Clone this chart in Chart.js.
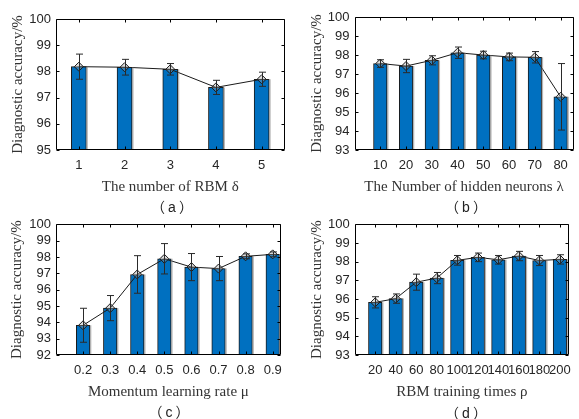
<!DOCTYPE html>
<html><head><meta charset="utf-8">
<script src="https://cdn.jsdelivr.net/npm/chart.js@4"></script>
<style>
html,body{margin:0;padding:0;background:#fff;}
#wrap{position:relative;width:579px;height:419px;overflow:hidden;background:#fff;}
canvas{position:absolute;}
.sub{position:absolute;font-family:"Noto Sans CJK SC",sans-serif;font-size:14px;color:#222;transform:translate(-50%,-50%);white-space:nowrap;line-height:1;}
.sub span{font-family:"Liberation Sans",sans-serif;margin:0 3px;}
</style></head><body>
<div id="wrap">
<canvas id="ca" width="290" height="210" style="left:0;top:0"></canvas>
<canvas id="cb" width="290" height="210" style="left:289px;top:0"></canvas>
<canvas id="cc" width="290" height="210" style="left:0;top:209px"></canvas>
<canvas id="cd" width="290" height="210" style="left:289px;top:209px"></canvas>
<div class="sub" style="left:172px;top:206px">（<span>a</span>）</div>
<div class="sub" style="left:466px;top:206px">（<span>b</span>）</div>
<div class="sub" style="left:169px;top:411px">（<span>c</span>）</div>
<div class="sub" style="left:466px;top:412px">（<span>d</span>）</div>
</div>
<script>
// ---- data ----
const aCats = ['1', '2', '3', '4', '5'];
const aVals = [98.18, 98.16, 98.08, 97.39, 97.70];
const aErr  = [0.48, 0.30, 0.22, 0.27, 0.27];
const aYTicks = [95, 96, 97, 98, 99, 100];

const bCats = [10, 20, 30, 40, 50, 60, 70, 80];
const bLabels = ['10', '20', '30', '40', '50', '60', '70', '80'];
const bVals = [97.55, 97.42, 97.72, 98.12, 98.00, 97.90, 97.88, 95.80];
const bErr  = [0.20, 0.35, 0.24, 0.30, 0.20, 0.20, 0.30, 1.75];
const bYTicks = [93, 94, 95, 96, 97, 98, 99, 100];

const cCats = [0.2, 0.3, 0.4, 0.5, 0.6, 0.7, 0.8, 0.9];
const cLabels = ['0.2', '0.3', '0.4', '0.5', '0.6', '0.7', '0.8', '0.9'];
const cVals = [93.82, 94.87, 96.93, 97.89, 97.38, 97.29, 98.04, 98.16];
const cErr  = [1.04, 0.77, 1.15, 0.93, 0.83, 0.74, 0.15, 0.15];
const cYTicks = [92, 93, 94, 95, 96, 97, 98, 99, 100];

const dCats = [20, 40, 60, 80, 100, 120, 140, 160, 180, 200];
const dLabels = ['20', '40', '60', '80', '100', '120', '140', '160', '180', '200'];
const dVals = [95.82, 96.02, 96.90, 97.12, 98.07, 98.23, 98.10, 98.30, 98.06, 98.12];
const dErr  = [0.30, 0.25, 0.43, 0.30, 0.26, 0.23, 0.23, 0.25, 0.27, 0.25];
const dYTicks = [93, 94, 95, 96, 97, 98, 99, 100];

const yTitle = 'Diagnostic accuracy/%';

// ---- plugin: bar shading, error bars, axes box, inward ticks ----
const boxPlugin = {
  id: 'errbox',
  afterDatasetsDraw(chart, args, opts) {
    const {ctx, chartArea: a, scales: {x, y}} = chart;
    ctx.save();
    const meta = chart.getDatasetMeta(1);
    // light grey edge to the right of each bar
    ctx.strokeStyle = 'rgba(120,120,120,0.55)';
    ctx.lineWidth = 1.5;
    meta.data.forEach(el => {
      const rx = el.x + el.width / 2 + 0.75;
      ctx.beginPath();
      ctx.moveTo(rx, el.y); ctx.lineTo(rx, a.bottom - 1);
      ctx.stroke();
    });
    ctx.strokeStyle = '#2a2a2a';
    ctx.lineWidth = 1;
    meta.data.forEach((el, i) => {
      const px = Math.round(el.x) + 0.5;
      const v = opts.vals[i], e = opts.errs[i];
      const yt = y.getPixelForValue(v + e), yb = y.getPixelForValue(v - e);
      ctx.beginPath();
      ctx.moveTo(px, yt); ctx.lineTo(px, yb);
      ctx.moveTo(px - 3.5, yt); ctx.lineTo(px + 3.5, yt);
      ctx.moveTo(px - 3.5, yb); ctx.lineTo(px + 3.5, yb);
      ctx.stroke();
    });
    ctx.strokeStyle = '#000';
    ctx.lineWidth = 1;
    const L = Math.round(a.left) + 0.5, R = Math.round(a.right) - 0.5;
    const T = Math.round(a.top) + 0.5, B = Math.round(a.bottom) - 0.5;
    ctx.beginPath();
    ctx.rect(L, T, R - L, B - T);
    const tl = 3;
    x.ticks.forEach(t => {
      const px = Math.round(x.getPixelForValue(t.value)) + 0.5;
      ctx.moveTo(px, B); ctx.lineTo(px, B - tl);
      ctx.moveTo(px, T); ctx.lineTo(px, T + tl);
    });
    y.ticks.forEach(t => {
      const py = Math.round(y.getPixelForValue(t.value)) + 0.5;
      ctx.moveTo(L, py); ctx.lineTo(L + tl, py);
      ctx.moveTo(R, py); ctx.lineTo(R - tl, py);
    });
    ctx.stroke();
    ctx.restore();
  }
};

const tickFont = {family: 'Liberation Sans', size: 13};
const titleFont = {family: 'Liberation Serif', size: 15};

function panel(id, p) {
  const isCat = p.kind === 'category';
  const pts = isCat ? p.vals : p.cats.map((c, i) => ({x: c, y: p.vals[i]}));
  const xScale = isCat ? {
    type: 'category', offset: true,
    grid: {display: false, drawTicks: false, offset: true}, border: {display: false},
    ticks: {padding: 8, font: tickFont, color: '#262626', maxRotation: 0, autoSkip: false},
  } : {
    type: 'linear', min: p.xmin, max: p.xmax, offset: false,
    grid: {display: false, drawTicks: false}, border: {display: false},
    afterBuildTicks: s => { s.ticks = p.cats.map(v => ({value: v})); },
    ticks: {padding: 8, font: tickFont, color: '#262626', maxRotation: 0, autoSkip: false,
      callback: (v, i) => p.labels[i]},
  };
  xScale.title = {display: true, text: p.xTitle, font: titleFont, color: '#333',
    padding: {top: 0, bottom: p.xTitlePad}};
  xScale.afterFit = s => { s.height = p.xH; };
  new Chart(document.getElementById(id), {
    type: 'bar',
    data: {
      labels: isCat ? p.cats : undefined,
      datasets: [
        {type: 'line', data: pts, borderColor: '#1a1a1a', borderWidth: 1,
          pointStyle: 'rectRot', pointRadius: 4.5, pointBackgroundColor: 'rgba(160,160,160,0.35)',
          pointBorderColor: '#1a1a1a', pointBorderWidth: 1, order: 0, clip: false},
        {type: 'bar', data: pts, backgroundColor: '#0070C0', borderColor: '#1a1a1a',
          borderWidth: 1, barThickness: p.barW, order: 1}
      ]
    },
    options: {
      responsive: false, animation: false, events: [],
      layout: {padding: {left: 0, top: p.top, right: p.right, bottom: 0}},
      plugins: {legend: {display: false}, tooltip: {enabled: false},
        errbox: {vals: p.vals, errs: p.errs}},
      scales: {
        x: xScale,
        y: {
          type: 'linear', min: p.ymin, max: p.ymax,
          grid: {display: false, drawTicks: false}, border: {display: false},
          afterBuildTicks: s => { s.ticks = p.yTicks.map(v => ({value: v})); },
          ticks: {padding: 5, font: tickFont, color: '#262626', autoSkip: false},
          title: {display: true, text: yTitle, font: titleFont, color: '#333',
            padding: {top: p.yTitlePad, bottom: 0}},
          afterFit: s => { s.width = p.left; }
        }
      }
    },
    plugins: [boxPlugin]
  });
}

panel('ca', {kind: 'category', cats: aCats, vals: aVals, errs: aErr, yTicks: aYTicks,
  ymin: 95, ymax: 100, xTitle: 'The number of RBM δ', left: 56, top: 19, right: 2, xH: 60,
  xTitlePad: 14, yTitlePad: 9, barW: 15});
panel('cb', {kind: 'linear', cats: bCats, labels: bLabels, vals: bVals, errs: bErr, yTicks: bYTicks,
  xmin: 0, xmax: 85, ymin: 93, ymax: 100, xTitle: 'The Number of hidden neurons λ',
  left: 65.5, top: 17, right: 1.5, xH: 60, xTitlePad: 14, yTitlePad: 19, barW: 13.5});
panel('cc', {kind: 'linear', cats: cCats, labels: cLabels, vals: cVals, errs: cErr, yTicks: cYTicks,
  xmin: 0.1, xmax: 0.93, ymin: 92, ymax: 100, xTitle: 'Momentum learning rate μ',
  left: 56, top: 15.3, right: 7.3, xH: 64, xTitlePad: 18, yTitlePad: 8, barW: 13.5});
panel('cd', {kind: 'linear', cats: dCats, labels: dLabels, vals: dVals, errs: dErr, yTicks: dYTicks,
  xmin: 0, xmax: 209, ymin: 93, ymax: 100, xTitle: 'RBM training times ρ',
  left: 65.7, top: 15.3, right: 1, xH: 64, xTitlePad: 18, yTitlePad: 19, barW: 13.5});
</script>
</body></html>
